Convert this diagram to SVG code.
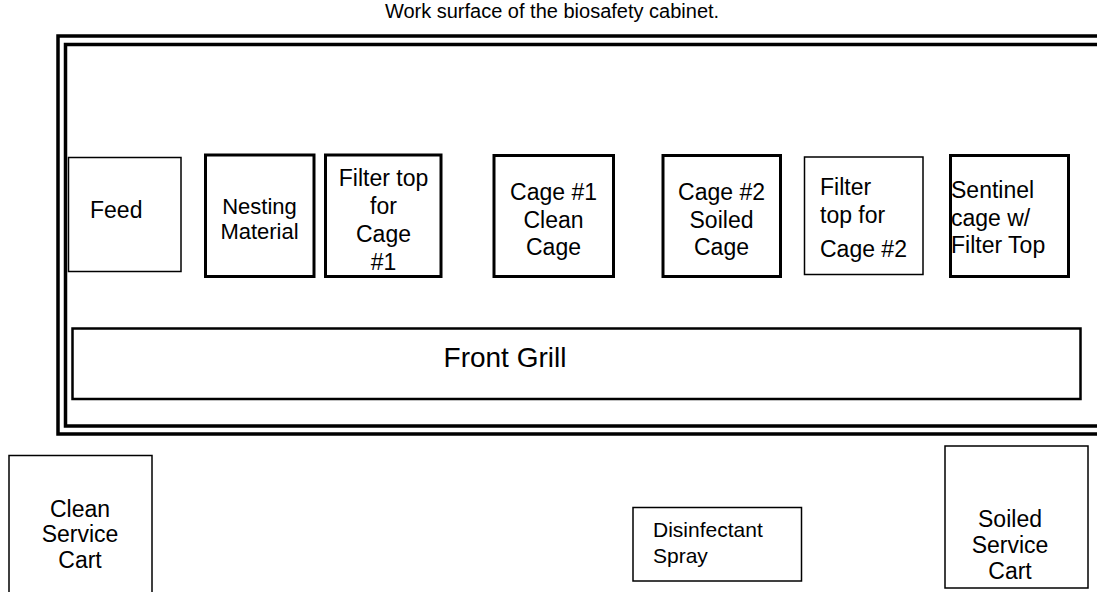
<svg xmlns="http://www.w3.org/2000/svg" width="1097" height="592" viewBox="0 0 1097 592">
<style>
text{font-family:"Liberation Sans",Arial,sans-serif;fill:#000;}
.t{font-size:23px;}
.c{text-anchor:middle;}
.thick{fill:#fff;stroke:#000;stroke-width:3;}
.thin{fill:#fff;stroke:#000;stroke-width:1.5;}
.frame{fill:none;stroke:#000;stroke-width:3.5;}
</style>
<rect width="1097" height="592" fill="#fff"/>
<text x="552" y="18" font-size="20" class="c">Work surface of the biosafety cabinet.</text>
<g id="cabinet">
<path class="frame" d="M1100,36 H58 V434 H1100"/>
<path class="frame" d="M1100,44.5 H65.5 V426 H1100"/>
</g>
<g id="feed">
<rect class="thin" x="68.5" y="157.5" width="112.5" height="114"/>
<text class="t" x="90" y="218">Feed</text>
</g>
<g id="nesting">
<rect class="thick" x="205.5" y="155" width="108.5" height="121.5"/>
<text x="259.5" y="213.5" font-size="22" class="c">Nesting</text>
<text x="259.5" y="238.5" font-size="22" class="c">Material</text>
</g>
<g id="filter1">
<rect class="thick" x="325.5" y="155" width="115.5" height="121.5"/>
<text class="t c" x="383.5" y="186">Filter top</text>
<text class="t c" x="383.5" y="213.5">for</text>
<text class="t c" x="383.5" y="241.5">Cage</text>
<text class="t c" x="383.5" y="270">#1</text>
</g>
<g id="cage1">
<rect class="thick" x="494" y="155.5" width="119.5" height="121"/>
<text class="t c" x="553.5" y="200">Cage #1</text>
<text class="t c" x="553.5" y="228">Clean</text>
<text class="t c" x="553.5" y="255">Cage</text>
</g>
<g id="cage2">
<rect class="thick" x="663" y="155.5" width="117.5" height="121"/>
<text class="t c" x="721.5" y="200">Cage #2</text>
<text class="t c" x="721.5" y="228">Soiled</text>
<text class="t c" x="721.5" y="255">Cage</text>
</g>
<g id="filter2">
<rect class="thin" x="804.5" y="157" width="118.5" height="117.5"/>
<text class="t" x="820" y="195">Filter</text>
<text class="t" x="820" y="223">top for</text>
<text class="t" x="820" y="257">Cage #2</text>
</g>
<g id="sentinel">
<rect class="thick" x="950.5" y="155.5" width="118" height="121"/>
<text class="t" x="951" y="198">Sentinel</text>
<text class="t" x="951" y="226">cage w/</text>
<text class="t" x="951" y="253">Filter Top</text>
</g>
<g id="grill">
<rect class="thick" x="72.5" y="328.5" width="1008" height="70.5" style="stroke-width:2.5"/>
<text x="505" y="367" font-size="28" class="c">Front Grill</text>
</g>
<g id="clean-cart">
<rect class="thin" x="9" y="455.5" width="143" height="145"/>
<text class="t c" x="80" y="517">Clean</text>
<text class="t c" x="80" y="542">Service</text>
<text class="t c" x="80" y="568">Cart</text>
</g>
<g id="spray">
<rect class="thin" x="633" y="507.5" width="168.5" height="73.5"/>
<text x="653" y="537" font-size="21">Disinfectant</text>
<text x="653" y="563" font-size="21">Spray</text>
</g>
<g id="soiled-cart">
<rect class="thin" x="945" y="446" width="143" height="142"/>
<text class="t c" x="1010" y="527">Soiled</text>
<text class="t c" x="1010" y="553">Service</text>
<text class="t c" x="1010" y="579">Cart</text>
</g>
<g id="connectors"></g>
</svg>
